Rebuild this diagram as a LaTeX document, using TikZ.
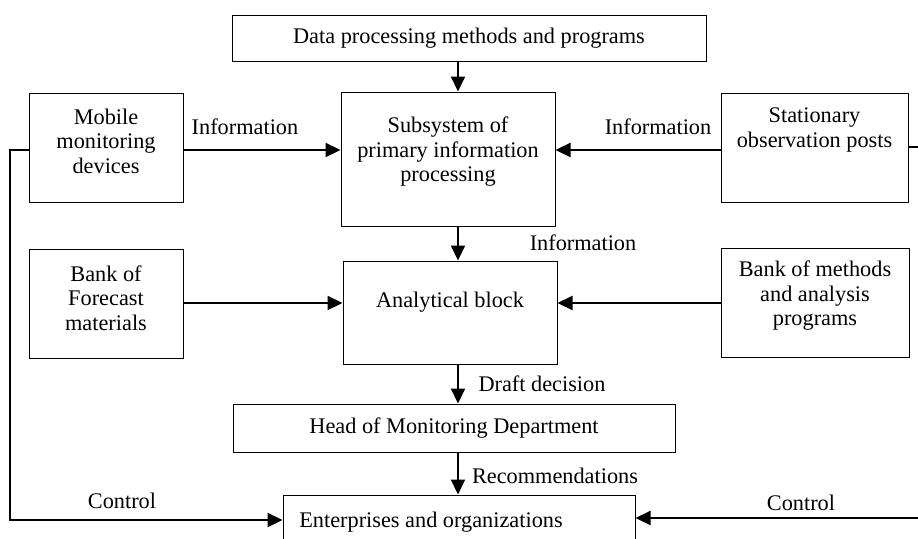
\documentclass[tikz,border=0pt]{standalone}
\usepackage{fontspec}
\setmainfont{Liberation Serif}
\usetikzlibrary{arrows.meta}
\tikzset{
  boxwh/.style 2 args={draw, line width=1pt, minimum width=#1, minimum height=#2, inner sep=0pt},
  txt/.style={inner sep=0pt, align=center},
  conn/.style={line width=2.2pt, -{Triangle[length=15pt,width=14pt]}},
  every node/.style={font=\fontsize{22.3}{24.5}\selectfont}
}
\begin{document}
\begin{tikzpicture}[x=1pt,y=-1pt]
\useasboundingbox (0,0) rectangle (918,538);
\clip (0,0) rectangle (918,538);
% boxes
\node[boxwh={474}{46}] (top) at (469,38) {Data processing methods and programs};
\node[boxwh={214}{134}] (sub) at (448,159) {};
\node[txt] (subT) at (448,152) {Subsystem of\\primary information\\processing};
\node[boxwh={154}{109}] (mob) at (106,147.5) {};
\node[txt] (mobT) at (106,141) {Mobile\\monitoring\\devices};
\node[boxwh={187}{109}] (stat) at (814.5,147.5) {};
\node[txt] (statT) at (814.5,130) {Stationary\\observation posts};
\node[boxwh={154}{109}] (bf) at (106,303.5) {};
\node[txt] (bfT) at (106,298) {Bank of\\Forecast\\materials};
\node[boxwh={214}{103}] (ana) at (450,312.5) {};
\node[txt] (anaT) at (450,302) {Analytical block};
\node[boxwh={188}{109}] (bm) at (815,302.5) {};
\node[txt] (bmT) at (815,296) {Bank of methods\\and analysis\\programs};
\node[boxwh={442}{48}] (head) at (454,428) {Head of Monitoring Department};
\node[boxwh={352}{70}] (bot) at (459,530) {};
\node[txt] (botT) at (431,522) {Enterprises and organizations};
% helper coordinates
\coordinate (ax) at (458,0);
\coordinate (ay) at (0,150);
\coordinate (by) at (0,303);
\coordinate (cl1) at (10,150);
\coordinate (cl2) at (10,520);
\coordinate (cr1) at (935,147);
\coordinate (cr2) at (935,518);
% connectors
\draw[conn] (top.south -| ax) -- (sub.north -| ax);
\draw[conn] (mob.east |- ay) -- (sub.west |- ay);
\draw[conn] (stat.west |- ay) -- (sub.east |- ay);
\draw[conn] (sub.south -| ax) -- (ana.north -| ax);
\draw[conn] (bf.east |- by) -- (ana.west |- by);
\draw[conn] (bm.west |- by) -- (ana.east |- by);
\draw[conn] (ana.south -| ax) -- (head.north -| ax);
\draw[conn] (head.south -| ax) -- (bot.north -| ax);
\draw[conn] (mob.west |- cl1) -- (cl1) -- (cl2) -- (bot.west |- cl2);
\draw[conn] (stat.east |- cr1) -- (cr1) -- (cr2) -- (bot.east |- cr2);
% labels
\node[txt] (l1) at (245,127) {Information};
\node[txt] (l2) at (658,127) {Information};
\node[txt] (l3) at (583,243) {Information};
\node[txt] (l4) at (542,384) {Draft decision};
\node[txt] (l5) at (555,476) {Recommendations};
\node[txt] (l6) at (122,501) {Control};
\node[txt] (l7) at (801,503) {Control};
\end{tikzpicture}
\end{document}
